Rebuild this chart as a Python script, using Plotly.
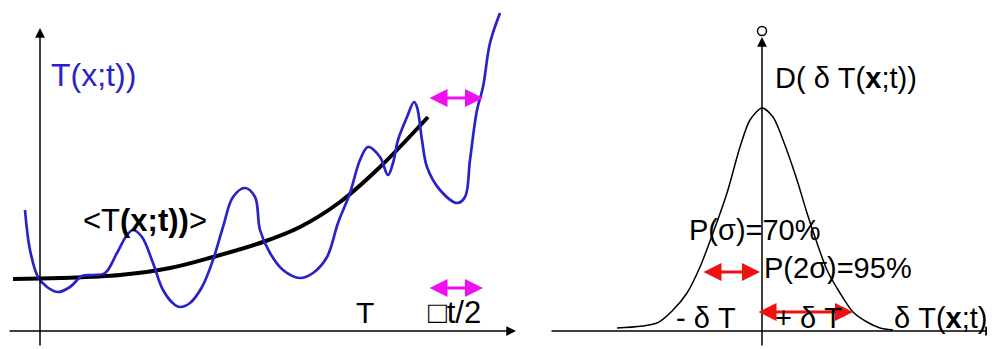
import plotly.graph_objects as go

# Blue fluctuating signal T(x;t)
blue_x = [25, 30, 38, 47, 58, 70, 82, 93, 105, 117, 127, 133, 142, 153, 163, 175, 180, 190, 202, 213, 223, 233,
          245, 255, 260, 270, 283, 300, 313, 327, 338, 350, 360, 368, 380, 388, 393, 398, 407, 414, 417, 422, 427,
          440, 457, 465, 470, 477, 483, 490, 500]
blue_y = [210, 250, 277, 287, 292, 287, 276, 275, 273, 253, 235, 230, 237, 263, 290, 305, 307, 303, 287, 260, 227,
          197, 188, 197, 230, 253, 270, 278, 273, 257, 223, 193, 160, 147, 157, 175, 163, 140, 117, 102, 107, 140,
          167, 190, 203, 197, 160, 110, 87, 43, 13]

# Black mean <T(x;t)>
mean_x = [13, 60, 120, 170, 213, 263, 300, 340, 380, 428]
mean_y = [279, 278, 275, 268, 257, 242, 227, 202, 167, 117]

# Distribution D(dT)
pdf_x = [617, 657, 673, 687, 700, 713, 727, 740, 750, 762, 773, 783, 797, 807, 817, 827, 840, 853, 867, 880, 893]
pdf_y = [328, 323, 310, 293, 267, 233, 193, 147, 120, 108, 117, 140, 180, 213, 243, 270, 293, 312, 322, 328, 330]

FONT = "Liberation Sans, Arial, sans-serif"
OFF = 8  # page body margin
fig = go.Figure()
fig.add_trace(go.Scatter(x=mean_x, y=mean_y, mode="lines", line=dict(color="black", width=4, shape="spline"),
                         hoverinfo="skip"))
fig.add_trace(go.Scatter(x=blue_x, y=blue_y, mode="lines",
                         line=dict(color="#2a22c8", width=2.7, shape="spline", smoothing=1.0), hoverinfo="skip"))
fig.add_trace(go.Scatter(x=pdf_x, y=pdf_y, mode="lines", line=dict(color="black", width=1.5, shape="spline",
                                                                   smoothing=0.8), hoverinfo="skip"))
fig.add_trace(go.Scatter(x=[762], y=[31], mode="markers",
                         marker=dict(symbol="circle-open", size=9, color="black", line=dict(width=1.5)),
                         hoverinfo="skip"))

anns = []


def arrow(x0, y0, x1, y1, color, width, head=2, size=1.0, both=False):
    anns.append(dict(x=x1, y=y1, ax=x0, ay=y0, xref="x", yref="y", axref="x", ayref="y", text="",
                     showarrow=True, arrowhead=head, arrowsize=size, arrowwidth=width, arrowcolor=color,
                     arrowside="end+start" if both else "end", startarrowhead=head, startarrowsize=size))


# axes
arrow(40, 347, 40, 28, "black", 1.5, head=2, size=1.3)
arrow(8, 331, 516, 331, "black", 1.5, head=2, size=1.3)
arrow(762, 347, 762, 37, "black", 1.5, head=2, size=1.3)
arrow(550, 331, 995, 331, "black", 1.5, head=2, size=1.3)
# magenta and red double arrows
arrow(428, 98, 483, 98, "#ee11ee", 3, head=2, size=1.2, both=True)
arrow(428, 288, 483, 288, "#ee11ee", 3, head=2, size=1.2, both=True)
arrow(702, 272, 760, 272, "#ee1111", 3, head=2, size=1.2, both=True)
arrow(757, 312, 853, 312, "#ee1111", 3, head=2, size=1.2, both=True)


def txt(x, y, s, size=28, color="black"):
    anns.append(dict(x=x, y=y, xref="x", yref="y", text=s, showarrow=False,
                     font=dict(family=FONT, size=size, color=color), xanchor="center", yanchor="middle"))


txt(93, 75, "T(x;t))", 32, "#2a22c8")
txt(145, 220, "<T<b>(x;t))</b>>", 31)
txt(365, 312, "T", 30)
txt(454, 312, "□t/2", 31)
txt(846, 78, "D( δ T(<b>x</b>;t))", 29)
txt(755, 230, "P(σ)=70%", 29)
txt(838, 268, "P(2σ)=95%", 29)
txt(706, 318, "- δ T", 29)
txt(808, 318, "+ δ T", 29)
txt(941, 318, "δ T(<b>x</b>;t)", 29)

fig.update_layout(
    width=995, height=349, margin=dict(l=0, r=0, t=0, b=0),
    paper_bgcolor="white", plot_bgcolor="white", showlegend=False,
    xaxis=dict(range=[OFF, 995 + OFF], visible=False, fixedrange=True),
    yaxis=dict(range=[349 + OFF, OFF], visible=False, fixedrange=True),
    annotations=anns,
)
fig.write_html("out.html")
